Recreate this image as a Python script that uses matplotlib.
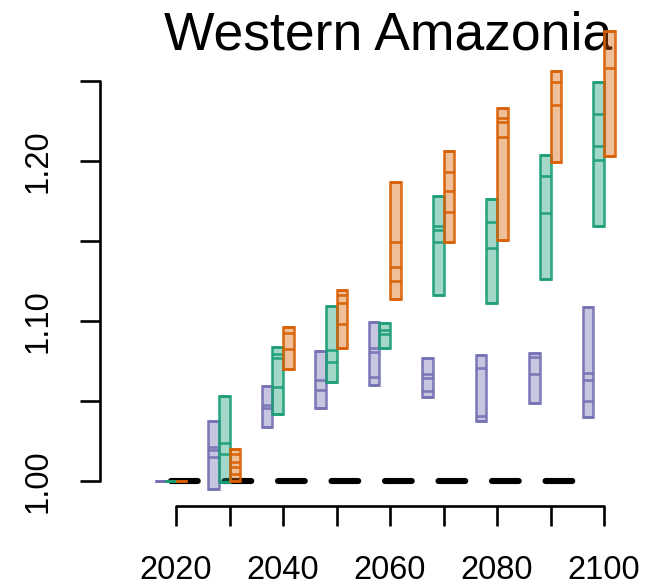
import matplotlib
matplotlib.use("Agg")
import matplotlib.pyplot as plt
from matplotlib.patches import Rectangle

plt.rcParams["font.family"] = ["Liberation Sans", "DejaVu Sans"]
plt.rcParams["lines.scale_dashes"] = False

# Decades and per-scenario model values (relative change)
decades = [2020, 2030, 2040, 2050, 2060, 2070, 2080, 2090, 2100]

purple_vals = [
    [1.0, 1.0],
    [0.995, 1.0146, 1.019, 1.021, 1.0375],
    [1.0333, 1.0455, 1.0476, 1.059],
    [1.0456, 1.057, 1.063, 1.0812],
    [1.0598, 1.065, 1.0806, 1.0831, 1.099],
    [1.0522, 1.0563, 1.064, 1.0667, 1.077],
    [1.0375, 1.0404, 1.0706, 1.0786],
    [1.0484, 1.0666, 1.0775, 1.0796],
    [1.04, 1.0498, 1.0629, 1.0671, 1.1088],
]
green_vals = [
    [1.0, 1.0],
    [0.999, 1.0167, 1.0238, 1.053],
    [1.0415, 1.0588, 1.077, 1.0795, 1.0834],
    [1.0618, 1.0742, 1.0817, 1.1092],
    [1.0828, 1.092, 1.094, 1.0984],
    [1.1158, 1.1489, 1.1567, 1.1595, 1.178],
    [1.1109, 1.1456, 1.1615, 1.1759],
    [1.1263, 1.1675, 1.1904, 1.2036],
    [1.1592, 1.2004, 1.2092, 1.229, 1.249],
]
orange_vals = [
    [1.0, 1.0],
    [1.0, 1.0045, 1.0088, 1.012, 1.0168, 1.0196],
    [1.0697, 1.0822, 1.0926, 1.0959],
    [1.0831, 1.0979, 1.1113, 1.1161, 1.1192],
    [1.1136, 1.125, 1.1338, 1.1494, 1.1865],
    [1.1494, 1.1677, 1.1813, 1.1927, 1.206],
    [1.1504, 1.215, 1.2244, 1.2265, 1.2327],
    [1.1994, 1.2348, 1.2494, 1.2561],
    [1.2028, 1.258, 1.2812],
]

series = [
    (purple_vals, "#7570B3", -4),
    (green_vals, "#1B9E77", -2),
    (orange_vals, "#D95F02", 0),
]
box_width = 2

ref_level = 1.0
ref_start, ref_end = 2019, 2095

yticks = [1.00, 1.05, 1.10, 1.15, 1.20, 1.25]
ytick_labels = ["1.00", "", "1.10", "", "1.20", ""]
xticks = [2020, 2030, 2040, 2050, 2060, 2070, 2080, 2090, 2100]
xtick_labels = ["2020", "", "2040", "", "2060", "", "2080", "", "2100"]

W, H, DPI = 666, 587, 100
fig = plt.figure(figsize=(W / DPI, H / DPI), dpi=DPI)

# axes box in pixels: left, right, bottom, top (from the top edge)
ax_l, ax_r, ax_b, ax_t = 100, 650, 505.7, 25
ax = fig.add_axes([ax_l / W, (H - ax_b) / H, (ax_r - ax_l) / W, (ax_b - ax_t) / H])
ax.patch.set_alpha(0)

px_per_year = 5.35
px_per_unit = 1600.0
x0_px, y0_px = 176, 480.7
ax.set_xlim(2020 - (x0_px - ax_l) / px_per_year, 2020 + (ax_r - x0_px) / px_per_year)
ax.set_ylim(1.0 - (ax_b - y0_px) / px_per_unit, 1.0 + (y0_px - ax_t) / px_per_unit)

# dashed reference line at 1.0 (drawn beneath the boxes)
fig.canvas.draw()
p0 = ax.transData.transform((2020, 1.0))
p1 = ax.transData.transform((2025, 1.0))
dash_pt = (p1[0] - p0[0]) * 72 / DPI
ref_line, = ax.plot([ref_start, ref_end], [ref_level, ref_level], color="black",
                    lw=4.4, zorder=1)
ref_line.set_linestyle((0, (dash_pt, dash_pt)))
ref_line.set_dash_capstyle("round")

edge_lw = 1.9
for vals, color, offset in series:
    for dec, v in zip(decades, vals):
        x_left = dec + offset
        lo, hi = min(v), max(v)
        ax.add_patch(Rectangle((x_left, lo), box_width, hi - lo,
                               facecolor=color, alpha=0.4, edgecolor="none",
                               zorder=2, clip_on=False))
        ax.add_patch(Rectangle((x_left, lo), box_width, hi - lo,
                               facecolor="none", edgecolor=color, lw=edge_lw,
                               alpha=0.9, zorder=3, clip_on=False))
        ax.hlines(v, x_left, x_left + box_width, colors=color, lw=edge_lw,
                  alpha=0.9, zorder=3, clip_on=False)

# R-style axes
for side in ("top", "right"):
    ax.spines[side].set_visible(False)
ax.spines["left"].set_bounds(yticks[0], yticks[-1])
ax.spines["bottom"].set_bounds(xticks[0], xticks[-1])
for side in ("left", "bottom"):
    ax.spines[side].set_linewidth(1.9)
    ax.spines[side].set_capstyle("round")

ax.set_yticks(yticks)
ax.set_yticklabels(ytick_labels, rotation=90, va="center")
ax.set_xticks(xticks)
ax.set_xticklabels(xtick_labels)
ax.tick_params(axis="both", length=14.4, width=1.9, labelsize=23.5, color="black")
ax.tick_params(axis="y", pad=19)
ax.tick_params(axis="x", pad=21)

fig.text(388 / W, (H - 50) / H, "Western Amazonia", ha="center", va="baseline",
         fontsize=38.5, zorder=-1)

fig.savefig("out.png", dpi=DPI)
